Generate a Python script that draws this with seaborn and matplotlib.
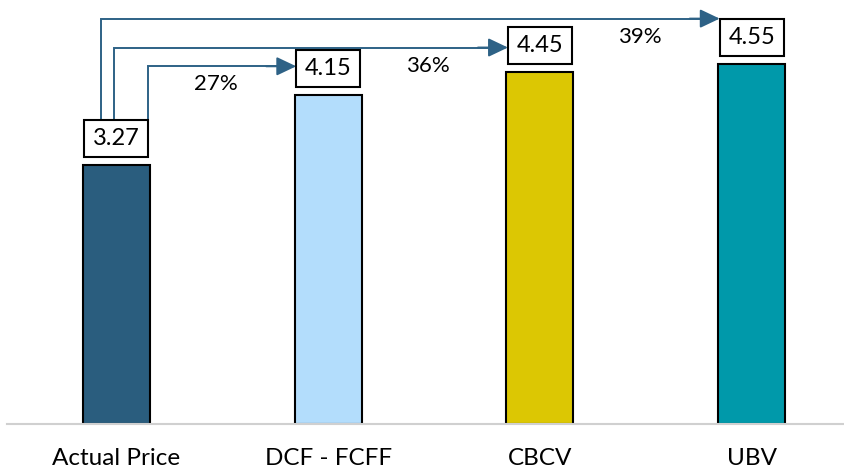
import matplotlib
matplotlib.use("Agg")
import matplotlib.pyplot as plt
import seaborn as sns
from matplotlib.patches import Rectangle

categories = ["Actual Price", "DCF - FCFF", "CBCV", "UBV"]
values = [3.27, 4.15, 4.45, 4.55]
colors = ["#2a5d7e", "#b3ddfc", "#dcc703", "#0099aa"]
arrow_color = "#2e6286"

sns.set_theme(style="white")
plt.rcParams["font.family"] = ["Lato", "DejaVu Sans"]

W, H = 844, 468
fig = plt.figure(figsize=(W / 100, H / 100), dpi=100)
ax = fig.add_axes([7 / W, 44 / H, 837 / W, 424 / H])

sns.barplot(x=categories, y=values, hue=categories, palette=colors, width=0.316,
            edgecolor="black", linewidth=1.5, legend=False, ax=ax, saturation=1)

ax.set_xlim(-0.517, 3.436)
ax.set_ylim(0, 5.353)
for s in ["top", "right", "left"]:
    ax.spines[s].set_visible(False)
ax.spines["bottom"].set_color("#d0d0d0")
ax.spines["bottom"].set_linewidth(1.5)
ax.set_yticks([])
ax.set_xlabel("")
ax.set_ylabel("")
ax.tick_params(axis="x", length=0, pad=17, labelsize=17.5, labelcolor="black")

# pixel to data conversions
px_x = (ax.get_xlim()[1] - ax.get_xlim()[0]) / 837
px_y = (ax.get_ylim()[1] - ax.get_ylim()[0]) / 424

box_w, box_h, box_gap = 64, 37, 8
for i, v in enumerate(values):
    bx = i - box_w / 2 * px_x
    by = v + box_gap * px_y
    ax.add_patch(Rectangle((bx, by), box_w * px_x, box_h * px_y, facecolor="white",
                           edgecolor="black", linewidth=1.5, zorder=5))
    ax.text(i, by + box_h / 2 * px_y, f"{v:.2f}", ha="center", va="center",
            fontsize=17, color="black", zorder=6)

# arrows from the actual price to each valuation
x_offsets = [32, -2, -15]
rises = [29, 24, 45]
base = values[0]
start_y = base + (box_gap + box_h) * px_y
for k, (v, dx, rise) in enumerate(zip(values[1:], x_offsets, rises)):
    j = k + 1
    sx = 0 + dx * px_x
    ly = v + rise * px_y
    ex = j - box_w / 2 * px_x
    head = 16 * px_x
    ax.plot([sx, sx, ex - head], [start_y, ly, ly], color=arrow_color, lw=1.4,
            solid_joinstyle="miter", zorder=4)
    ax.annotate("", xy=(ex, ly), xytext=(ex - 30 * px_x, ly),
                arrowprops=dict(arrowstyle="-|>,head_length=0.8,head_width=0.38",
                                color=arrow_color, lw=1.4, shrinkA=0, shrinkB=0,
                                mutation_scale=15), zorder=4)
    pct = round((v / base - 1) * 100)
    ax.text(j - 0.53, ly - 18 * px_y, f"{pct}%", ha="center", va="center",
            fontsize=16, color="black")

fig.savefig("out.png", dpi=100)
